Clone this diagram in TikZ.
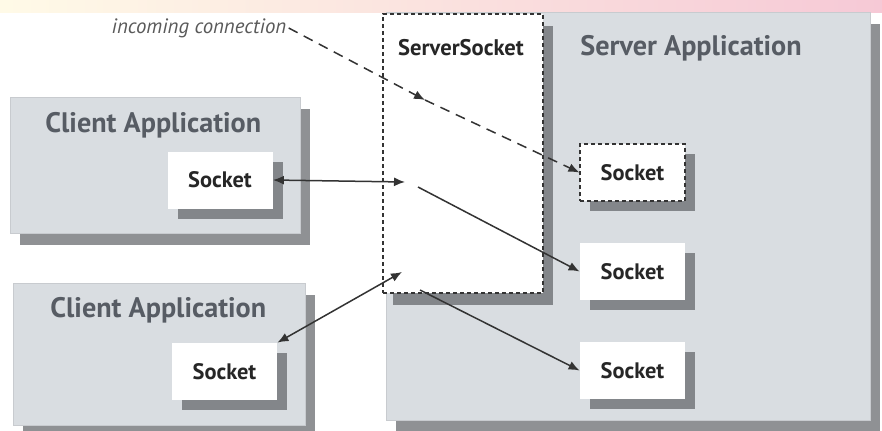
\documentclass[tikz,border=0pt]{standalone}
\usepackage{fontspec}
\setmainfont{PT Sans}
\usetikzlibrary{shadows, arrows.meta}
\definecolor{appgray}{HTML}{D9DDE1}
\definecolor{titlegray}{HTML}{575C64}
\definecolor{shadegray}{HTML}{5F6266}
\definecolor{stripyellow}{HTML}{FFF3C4}
\definecolor{strippink}{HTML}{F6C9D6}
\tikzset{
  appbox/.style={fill=appgray, draw=appgray!92!black, line width=0.3pt, inner sep=0pt,
    drop shadow={shadow xshift=5pt, shadow yshift=-6pt, fill=shadegray, opacity=0.7}},
  sockbox/.style={fill=white, minimum width=52.5pt, minimum height=28.5pt, inner sep=0pt,
    font=\bfseries\fontsize{11.2}{13}\selectfont, text=black!85,
    drop shadow={shadow xshift=5pt, shadow yshift=-5pt, fill=shadegray, opacity=0.7}},
  dashbox/.style={draw=black!80, line width=0.6pt, dash pattern=on 2pt off 1.5pt},
  apptitle/.style={font=\bfseries\fontsize{14.1}{16}\selectfont, text=titlegray, inner sep=0pt},
  conn/.style={draw=black!80, line width=0.75pt, -{Latex[length=5.5pt,width=4.5pt]}},
  dconn/.style={conn, {Latex[length=5.5pt,width=4.5pt]}-{Latex[length=5.5pt,width=4.5pt]}}
}
\begin{document}
\begin{tikzpicture}[x=0.5pt,y=0.5pt]
\useasboundingbox (0,0) rectangle (882,430);
\shade[left color=stripyellow!40, middle color=stripyellow, right color=strippink] (0,418) rectangle (882,430);
% server side
\node[appbox, minimum width=242pt, minimum height=204pt] (srvapp) at (628,214) {};
\node[apptitle, anchor=west] (srvtitle) at (580,382) {Server Application};
\node[appbox, fill=white, dashbox, minimum width=80pt, minimum height=139.5pt] (srvsock) at (463,276.5) {};
\node[font=\bfseries\fontsize{11.3}{13}\selectfont, text=black!85, inner sep=0pt] (srvsocktitle) at (461,382) {ServerSocket};
\node[sockbox, dashbox] (ssockA) at (632.5,257.5) {Socket};
\node[sockbox] (ssockB) at (632.5,158.5) {Socket};
\node[sockbox] (ssockC) at (632.5,59.5) {Socket};
% client side
\node[appbox, minimum width=145pt, minimum height=68pt] (client1) at (155,265) {};
\node[apptitle, anchor=west] (ctitle1) at (45,305) {Client Application};
\node[sockbox] (csock1) at (220,250) {Socket};
\node[appbox, minimum width=146pt, minimum height=71pt] (client2) at (159,76) {};
\node[apptitle, anchor=west] (ctitle2) at (50,120) {Client Application};
\node[sockbox] (csock2) at (224.5,58.5) {Socket};
% connections
\node[font=\itshape\fontsize{10.4}{12}\selectfont, text=black!65, inner sep=1pt] (incoming) at (199,402) {incoming connection};
\coordinate (inmid) at (425,330);
\coordinate (ss1) at (405,248);
\coordinate (ss2) at (418,243);
\coordinate (ss3) at (402,158);
\coordinate (ss4) at (420,140);
\draw[conn, dash pattern=on 5pt off 3.5pt] (incoming.east) -- (inmid);
\draw[conn, dash pattern=on 5pt off 3.5pt] (inmid) -- (ssockA.west);
\draw[dconn] (csock1.east) -- (ss1);
\draw[conn] (ss2) -- (ssockB.west);
\draw[dconn] (csock2.north east) -- (ss3);
\draw[conn] (ss4) -- (ssockC.west);
\end{tikzpicture}
\end{document}
